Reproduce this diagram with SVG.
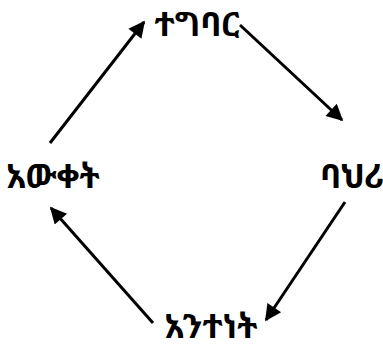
<svg xmlns="http://www.w3.org/2000/svg" width="383" height="349" viewBox="0 0 383 349">
<defs>
<style>
.lbl{font-family:"Noto Sans Ethiopic","Abyssinica SIL","Noto Sans","DejaVu Sans",sans-serif;font-size:33px;font-weight:bold;fill:#000;text-anchor:middle}
.edge{stroke:#000;stroke-width:3;fill:none;marker-end:url(#ah)}
</style>
<marker id="ah" viewBox="0 0 10 10" refX="9" refY="5" markerWidth="6.5" markerHeight="5.5" orient="auto" markerUnits="strokeWidth">
<path d="M0,0 L10,5 L0,10 z" fill="#000"/>
</marker>
</defs>
<rect width="383" height="349" fill="#fff"/>
<g id="connectors">
<line class="edge" x1="50" y1="143" x2="144" y2="22"/>
<line class="edge" x1="240" y1="25" x2="342" y2="120"/>
<line class="edge" x1="345" y1="202" x2="266" y2="320"/>
<line class="edge" x1="153" y1="323" x2="51" y2="208"/>
</g>
<g id="top"><text class="lbl" x="197" y="36">ተግባር</text></g>
<g id="right"><text class="lbl" x="352" y="188">ባህሪ</text></g>
<g id="bottom"><text class="lbl" x="211" y="338">አንተነት</text></g>
<g id="left"><text class="lbl" x="53" y="188">አውቀት</text></g>
</svg>
